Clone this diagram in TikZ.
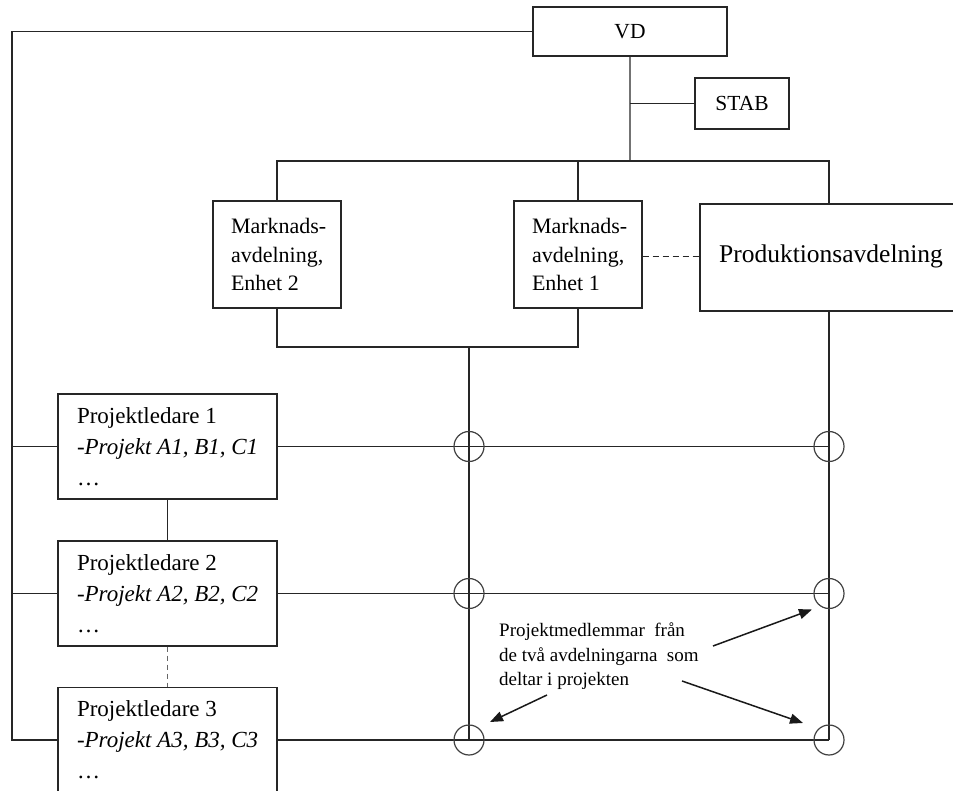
\documentclass[tikz,border=0pt]{standalone}
\usepackage{fontspec}
\setmainfont{Liberation Serif}
\usetikzlibrary{arrows.meta,calc}
\newcommand{\unitline}[1]{\makebox[92pt][l]{#1}}
\newcommand{\leadline}[1]{\makebox[181pt][l]{#1}}
\begin{document}
\begin{tikzpicture}[x=1pt,y=-1pt,
  line/.style={draw=black!85, line width=1.4pt},
  box/.style={draw=black!85, line width=1.4pt, fill=white, inner sep=0pt},
  unitbox/.style={box, minimum width=128, minimum height=107, inner xsep=18pt,
    align=left, font=\fontsize{22}{28.5}\selectfont},
  leadbox/.style={box, minimum width=219, minimum height=105, inner xsep=19pt,
    align=left, font=\fontsize{23}{31}\selectfont},
  ring/.style={circle, draw=black!75, line width=1.2pt, minimum size=30pt, inner sep=0pt},
  pointer/.style={draw=black!90, line width=1.5pt, -{Triangle[length=13pt,width=10pt]}}
]
\useasboundingbox (0,0) rectangle (953,791);
\fill[white] (0,0) rectangle (953,791);
\clip (0,0) rectangle (953,791);

% guide coordinates for the connector columns and buses
\coordinate (lb) at (12,0);
\coordinate (busT) at (0,161);
\coordinate (busB) at (0,347);
\coordinate (mcol) at (469,0);
\coordinate (pcol) at (829,0);

% management
\node[box, minimum width=194, minimum height=49, font=\fontsize{21.5}{25}\selectfont] (vd) at (630,31.5) {VD};
\node[box, minimum width=94, minimum height=51, font=\fontsize{21.5}{25}\selectfont] (stab) at (742,103.5) {STAB};

% departments
\node[unitbox] (e2) at (277,254.5) {\unitline{Marknads-}\\\unitline{avdelning,}\\\unitline{Enhet 2}};
\node[unitbox] (e1) at (578,254.5) {\unitline{Marknads-}\\\unitline{avdelning,}\\\unitline{Enhet 1}};
\node[box, minimum width=262, minimum height=107, font=\fontsize{25.5}{30}\selectfont] (p) at (831,257.5) {\raisebox{7pt}{Produktionsavdelning}};

% project leaders
\node[leadbox] (pl1) at (167.5,446.5) {\leadline{Projektledare 1}\\\leadline{\textit{-Projekt A1, B1, C1}}\\\leadline{\ldots}};
\node[leadbox] (pl2) at (167.5,593.5) {\leadline{Projektledare 2}\\\leadline{\textit{-Projekt A2, B2, C2}}\\\leadline{\ldots}};
\node[leadbox] (pl3) at (167.5,740) {\leadline{Projektledare 3}\\\leadline{\textit{-Projekt A3, B3, C3}}\\\leadline{\ldots}};

% line from VD down the left side to every project leader
\draw[line] (vd.west) -| (lb |- pl3.west) -- (pl3.west);
\draw[line] (lb |- pl1.west) -- (pl1.west);
\draw[line] (lb |- pl2.west) -- (pl2.west);

% VD to staff and departments
\draw[draw=black!55, line width=2.4pt] (vd.south) -- (vd.south |- busT);
\draw[line] (stab.west) -- (vd.south |- stab.west);
\draw[line] (e2.north) -- (e2.north |- busT) -- (pcol |- busT) -- (pcol |- p.north);
\draw[line] (e1.north) -- (e1.north |- busT);
\draw[line, dash pattern=on 6pt off 4pt] ([yshift=-2pt]e1.east) -- ([yshift=-2pt]e1.east -| p.west);

% matrix columns
\draw[line] (e2.south) -- (e2.south |- busB) -- (e1.south |- busB) -- (e1.south);
\draw[line] (mcol |- busB) -- (mcol |- pl3.east);
\draw[line] (pcol |- p.south) -- (pcol |- pl3.east);

% project rows
\draw[line] (pl1.east) -- (pcol |- pl1.east);
\draw[line] (pl2.east) -- (pcol |- pl2.east);
\draw[line] (pl3.east) -- (pcol |- pl3.east);
\draw[line] (pl1.south) -- (pl2.north);
\draw[draw=black!60, line width=1.6pt, dash pattern=on 5pt off 4pt] (pl2.south) -- (pl3.north);

% crossings
\node[ring] (c11) at (mcol |- pl1.east) {};
\node[ring] (c12) at (pcol |- pl1.east) {};
\node[ring] (c21) at (mcol |- pl2.east) {};
\node[ring] (c22) at (pcol |- pl2.east) {};
\node[ring] (c31) at (mcol |- pl3.east) {};
\node[ring] (c32) at (pcol |- pl3.east) {};

% annotation
\node[anchor=north west, inner sep=0pt, align=left, font=\fontsize{19}{24.5}\selectfont] (note) at (499,623)
  {Projektmedlemmar\ \ från\\de två avdelningarna\ \ som\\deltar i projekten};
\coordinate (a1s) at (547,695);
\coordinate (a2s) at (713,646);
\coordinate (a3s) at (682,681);
\coordinate (a1e) at ($(c31)+(21,-18)$);
\coordinate (a2e) at ($(c22)+(-17,16)$);
\coordinate (a3e) at ($(c32)+(-26,-17)$);
\draw[pointer] (a1s) -- (a1e);
\draw[pointer] (a2s) -- (a2e);
\draw[pointer] (a3s) -- (a3e);
\end{tikzpicture}
\end{document}
